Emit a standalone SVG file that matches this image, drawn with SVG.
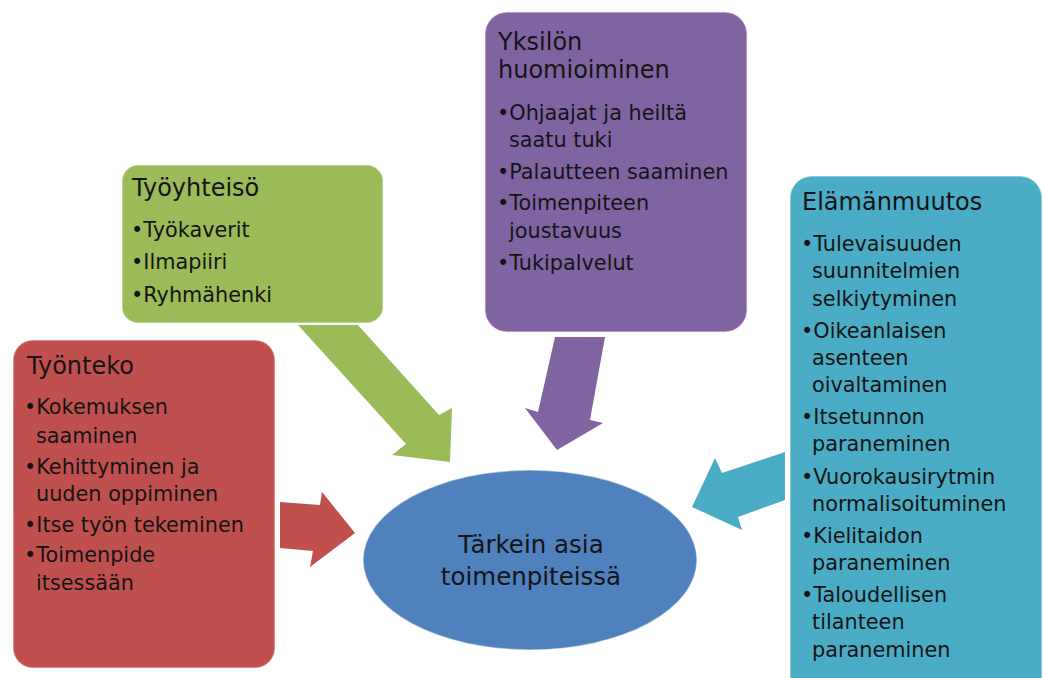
<svg xmlns="http://www.w3.org/2000/svg" width="1043" height="678" viewBox="0 0 1043 678">
<style>
text { font-family: "DejaVu Sans", "Liberation Sans", sans-serif; fill: #141414; }
.t { font-size: 24px; }
.b { font-size: 20.8px; }
.c { font-size: 24.5px; text-anchor: middle; }
.box { stroke: #ffffff; stroke-opacity: 0.45; stroke-width: 1.5; }
.red { fill: #c0504d; }
.green { fill: #9bbb59; }
.purple { fill: #8064a2; }
.teal { fill: #4bacc6; }
.blue { fill: #4f81bd; }
</style>
<rect width="1043" height="678" fill="#ffffff"/>
<g id="connectors">
  <polygon class="red" points="280,502 320,505 322,492 355,533 310,567 313,551 280,548"/>
  <polygon class="green" points="298,325 358,325 439,415 452,408 450,462 392,455 406,444"/>
  <polygon class="purple" points="555,337 605,337 590,420 603,423 557,450 525,408 538,412"/>
  <polygon class="teal" points="785,452 722,473 715,458 692,507 742,530 738,517 785,500"/>
</g>
<g id="node-tyonteko">
  <rect class="box red" x="13" y="340" width="262" height="328" rx="20"/>
  <text class="t" x="27" y="374">Työnteko</text>
  <text class="b" x="24" y="414">•Kokemuksen</text>
  <text class="b" x="36" y="443">saaminen</text>
  <text class="b" x="24" y="474">•Kehittyminen ja</text>
  <text class="b" x="36" y="501">uuden oppiminen</text>
  <text class="b" x="24" y="532">•Itse työn tekeminen</text>
  <text class="b" x="24" y="562">•Toimenpide</text>
  <text class="b" x="36" y="590">itsessään</text>
</g>
<g id="node-tyoyhteiso">
  <rect class="box green" x="122" y="165" width="261" height="158" rx="16"/>
  <text class="t" x="132" y="196">Työyhteisö</text>
  <text class="b" x="131" y="237">•Työkaverit</text>
  <text class="b" x="131" y="269">•Ilmapiiri</text>
  <text class="b" x="131" y="302">•Ryhmähenki</text>
</g>
<g id="node-yksilon">
  <rect class="box purple" x="485" y="12" width="262" height="320" rx="22"/>
  <text class="t" x="498" y="50">Yksilön</text>
  <text class="t" x="498" y="78">huomioiminen</text>
  <text class="b" x="497" y="120">•Ohjaajat ja heiltä</text>
  <text class="b" x="509" y="147">saatu tuki</text>
  <text class="b" x="497" y="179">•Palautteen saaminen</text>
  <text class="b" x="497" y="210">•Toimenpiteen</text>
  <text class="b" x="509" y="238">joustavuus</text>
  <text class="b" x="497" y="270">•Tukipalvelut</text>
</g>
<g id="node-elamanmuutos">
  <rect class="box teal" x="790" y="176" width="252" height="530" rx="22"/>
  <text class="t" x="802" y="210">Elämänmuutos</text>
  <text class="b" x="801" y="251">•Tulevaisuuden</text>
  <text class="b" x="812" y="278">suunnitelmien</text>
  <text class="b" x="812" y="306">selkiytyminen</text>
  <text class="b" x="801" y="338">•Oikeanlaisen</text>
  <text class="b" x="812" y="365">asenteen</text>
  <text class="b" x="812" y="392">oivaltaminen</text>
  <text class="b" x="801" y="424">•Itsetunnon</text>
  <text class="b" x="812" y="451">paraneminen</text>
  <text class="b" x="801" y="484">•Vuorokausirytmin</text>
  <text class="b" x="812" y="511">normalisoituminen</text>
  <text class="b" x="801" y="543">•Kielitaidon</text>
  <text class="b" x="812" y="570">paraneminen</text>
  <text class="b" x="801" y="602">•Taloudellisen</text>
  <text class="b" x="812" y="629">tilanteen</text>
  <text class="b" x="812" y="657">paraneminen</text>
</g>
<g id="node-center">
  <ellipse class="box blue" cx="530" cy="560" rx="167" ry="90"/>
  <text class="c" x="531" y="553">Tärkein asia</text>
  <text class="c" x="531" y="585">toimenpiteissä</text>
</g>
</svg>
